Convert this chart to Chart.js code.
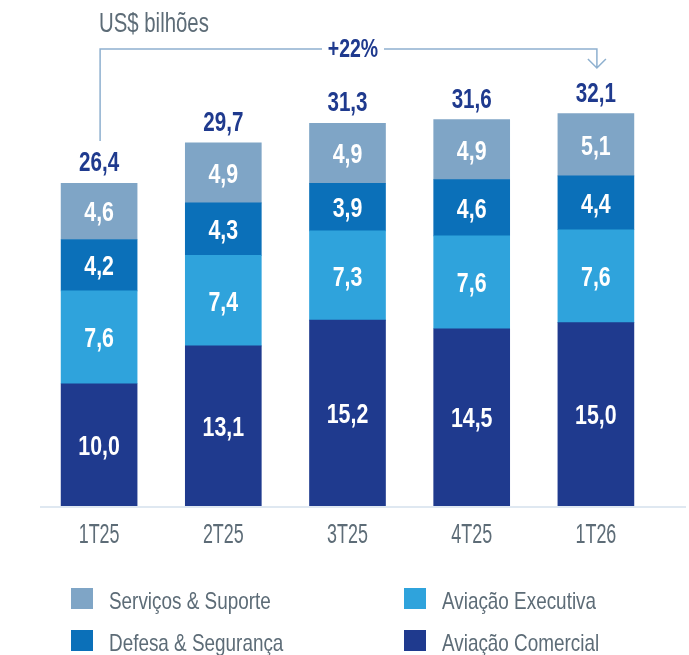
<!DOCTYPE html>
<html lang="pt-BR">
<head>
<meta charset="utf-8">
<title>Receita por segmento</title>
<script src="https://cdn.jsdelivr.net/npm/chart.js@4/dist/chart.umd.min.js"></script>
<style>
    html, body { margin: 0; padding: 0; background: #ffffff; }
    #wrap { width: 689px; height: 655px; }
</style>
</head>
<body>
<div id="wrap"><canvas id="barChart" width="689" height="655"></canvas></div>
<script>
const categories = ['1T25', '2T25', '3T25', '4T25', '1T26'];
const comercial = [10.0, 13.1, 15.2, 14.5, 15.0];
const executiva = [7.6, 7.4, 7.3, 7.6, 7.6];
const defesa = [4.2, 4.3, 3.9, 4.6, 4.4];
const servicos = [4.6, 4.9, 4.9, 4.9, 5.1];
const totals = [26.4, 29.7, 31.3, 31.6, 32.1];
const growthLabel = '+22%';
const unitLabel = 'US$ bilhões';

const colors = {
    servicos: '#7fa5c6',
    defesa: '#0b70b9',
    executiva: '#2fa3dc',
    comercial: '#1f3a8e',
    text: '#5d6c77',
    navy: '#1f3a8e',
    axis: '#dfe8f1',
    bracket: '#8eb0cf'
};

// no condensed face installed, so Liberation Sans gets squeezed horizontally
const FONT = '"Liberation Sans", Arial, sans-serif';
const NARROW = 0.82;

function fmt(v) {
    return v.toFixed(1).replace('.', ',');
}

function drawText(ctx, text, x, y, size, weight, color, align, sx) {
    sx = (sx || 1) * NARROW;
    ctx.save();
    ctx.font = `${weight} ${size}px ${FONT}`;
    ctx.fillStyle = color;
    ctx.textAlign = align || 'center';
    ctx.textBaseline = 'alphabetic';
    ctx.translate(x, y);
    ctx.scale(sx, 1);
    ctx.fillText(text, 0, 0);
    ctx.restore();
}

const decorPlugin = {
    id: 'decor',
    afterDatasetsDraw(chart) {
        const ctx = chart.ctx;
        const xScale = chart.scales.x;
        const base = chart.chartArea.bottom;

        // axis line
        ctx.save();
        ctx.strokeStyle = colors.axis;
        ctx.lineWidth = 2;
        ctx.beginPath();
        ctx.moveTo(40, base + 1);
        ctx.lineTo(686, base + 1);
        ctx.stroke();
        ctx.restore();

        // values inside segments
        chart.data.datasets.forEach((ds, di) => {
            const meta = chart.getDatasetMeta(di);
            meta.data.forEach((el, i) => {
                const cy = (el.y + el.base) / 2;
                drawText(ctx, fmt(ds.data[i]), el.x, cy + 10, 28, 'bold', '#ffffff', 'center', 0.93);
            });
        });

        // totals above the bars
        const topMeta = chart.getDatasetMeta(chart.data.datasets.length - 1);
        topMeta.data.forEach((el, i) => {
            drawText(ctx, fmt(totals[i]), el.x, el.y - 12, 27, 'bold', colors.navy, 'center', 0.93);
        });

        // category labels
        categories.forEach((c, i) => {
            const x = xScale.getPixelForValue(i);
            drawText(ctx, c, x, 543, 28, 'normal', colors.text, 'center', 0.78);
        });

        // unit title
        drawText(ctx, unitLabel, 99, 32, 27, 'normal', colors.text, 'left', 0.92);

        // growth bracket from first to last bar
        const x0 = xScale.getPixelForValue(0) + 1;
        const x1 = xScale.getPixelForValue(categories.length - 1) + 1;
        const ly = 49;
        const mid = 353;
        ctx.save();
        ctx.strokeStyle = colors.bracket;
        ctx.lineWidth = 1.5;
        ctx.beginPath();
        ctx.moveTo(x0, 141);
        ctx.lineTo(x0, ly);
        ctx.lineTo(mid - 31, ly);
        ctx.moveTo(mid + 31, ly);
        ctx.lineTo(x1, ly);
        ctx.lineTo(x1, 68);
        ctx.moveTo(x1 - 9, 59);
        ctx.lineTo(x1, 68);
        ctx.lineTo(x1 + 9, 59);
        ctx.stroke();
        ctx.restore();
        drawText(ctx, growthLabel, mid, 57, 25, 'bold', colors.navy, 'center', 0.95);

        // legend in two columns
        const legendItems = [
            { label: 'Serviços & Suporte', color: colors.servicos, x: 71, y: 588 },
            { label: 'Aviação Executiva', color: colors.executiva, x: 404, y: 588 },
            { label: 'Defesa & Segurança', color: colors.defesa, x: 71, y: 630 },
            { label: 'Aviação Comercial', color: colors.comercial, x: 404, y: 630 }
        ];
        legendItems.forEach(item => {
            ctx.fillStyle = item.color;
            ctx.fillRect(item.x, item.y, 22, 21);
            drawText(ctx, item.label, item.x + 38, item.y + 21, 24, 'normal', colors.text, 'left', 0.96);
        });
    }
};

function makeDataset(label, data, color) {
    return {
        label: label,
        data: data,
        backgroundColor: color,
        borderWidth: 0,
        barThickness: 76
    };
}

const ctx = document.getElementById('barChart').getContext('2d');
const chart = new Chart(ctx, {
    type: 'bar',
    data: {
        labels: categories,
        datasets: [
            makeDataset('Aviação Comercial', comercial, colors.comercial),
            makeDataset('Aviação Executiva', executiva, colors.executiva),
            makeDataset('Defesa & Segurança', defesa, colors.defesa),
            makeDataset('Serviços & Suporte', servicos, colors.servicos)
        ]
    },
    options: {
        responsive: false,
        maintainAspectRatio: false,
        animation: false,
        layout: {
            padding: { left: 37, right: 31, top: 17, bottom: 149 }
        },
        plugins: {
            legend: { display: false },
            tooltip: { enabled: false }
        },
        scales: {
            x: {
                display: false,
                stacked: true
            },
            y: {
                display: false,
                stacked: true,
                min: 0,
                max: 40
            }
        }
    },
    plugins: [decorPlugin]
});
</script>
</body>
</html>
